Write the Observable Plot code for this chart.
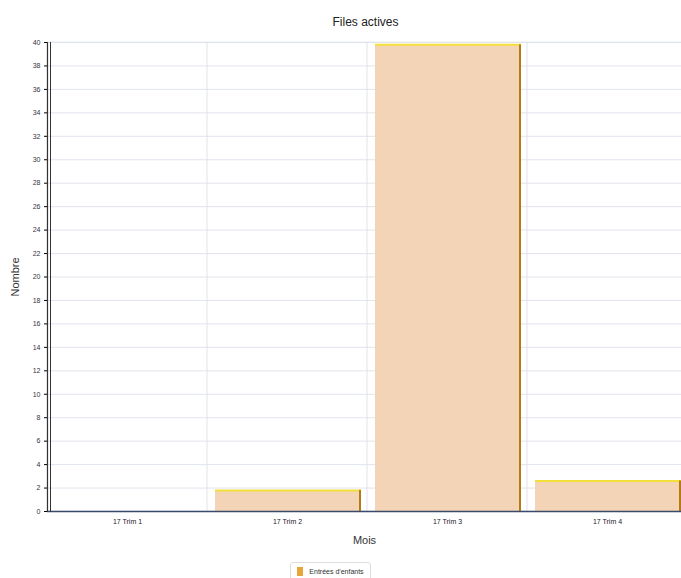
<!DOCTYPE html>
<html><head><meta charset="utf-8">
<script src="https://cdn.jsdelivr.net/npm/d3@7"></script>
<script src="https://cdn.jsdelivr.net/npm/@observablehq/plot@0.6"></script>
<style>
body{margin:0;background:#fff;overflow:hidden;font-family:"Liberation Sans",Arial,sans-serif;}
#title{height:34px;line-height:12px;padding-top:16px;box-sizing:border-box;font-size:12px;color:#222;text-align:center;padding-left:50px;}
#legend{display:flex;justify-content:center;padding-right:20px;margin-top:12px;}
#legend .box{border:1px solid #ddd;border-radius:3px;padding:4px 6px;font-size:7px;color:#333;display:flex;align-items:center;gap:6px;}
#legend .sw{width:6px;height:9px;background:#e9a53a;display:inline-block;}
</style></head>
<body>
<div id="title">Files actives</div>
<div id="chart"></div>
<div id="legend"><div class="box"><span class="sw"></span><span>Entrées d'enfants</span></div></div>
<script>
const categories = ["17 Trim 1", "17 Trim 2", "17 Trim 3", "17 Trim 4"];
const values = [0, 1.8, 39.8, 2.6];
const yTicks = d3.range(0, 41, 2);
const seriesName = "Entrées d'enfants";

const data = categories.map((c, i) => ({cat: c, v: values[i]}));
const nonZero = data.filter(d => d.v > 0);

const chart = Plot.plot({
  width: 681,
  height: 516,
  marginTop: 8,
  marginBottom: 39,
  marginLeft: 47,
  marginRight: 0,
  style: {fontFamily: "Liberation Sans, Arial, sans-serif", overflow: "visible"},
  x: {domain: categories, range: [47, 687], padding: 0, label: null},
  y: {domain: [0, 40], label: null},
  marks: [
    Plot.ruleY(yTicks, {stroke: "#d9dde8", strokeWidth: 0.8}),
    Plot.barY(data, {x: "cat", y1: 0, y2: 40, fill: "none", stroke: "#d9dde8", strokeWidth: 0.5}),
    Plot.barY(data, {x: "cat", y: "v", fill: "#f3d4b6", insetLeft: 8, insetRight: 6}),
    Plot.tickY(nonZero, {x: "cat", y: "v", stroke: "#f2df3a", strokeWidth: 2, insetLeft: 8, insetRight: 6}),
    Plot.barY(nonZero, {x: "cat", y: "v", fill: "#b77a10", insetLeft: 152, insetRight: 6}),
    Plot.ruleY([0], {stroke: "#3a4a6a", strokeWidth: 1.5}),
    Plot.axisY({ticks: yTicks, tickSize: 3, fontSize: 7, fill: "#334", tickPadding: 4, label: "Nombre", labelAnchor: "center", labelOffset: 36, labelArrow: "none"}),
    Plot.frame({anchor: "left", stroke: "#333", strokeWidth: 1.2}),
    Plot.frame({anchor: "left", stroke: "#333", strokeWidth: 1, dx: 3}),
    Plot.axisX({tickSize: 0, fontSize: 7, fill: "#222", tickPadding: 8, label: "Mois", labelAnchor: "center", labelOffset: 32, labelArrow: "none"})
  ]
});
chart.querySelectorAll("g[aria-label='y-axis label'] text, g[aria-label='x-axis label'] text").forEach(t => {
  t.setAttribute("font-size", "11"); t.setAttribute("fill", "#333");
});
document.getElementById("chart").appendChild(chart);
</script>
</body></html>
